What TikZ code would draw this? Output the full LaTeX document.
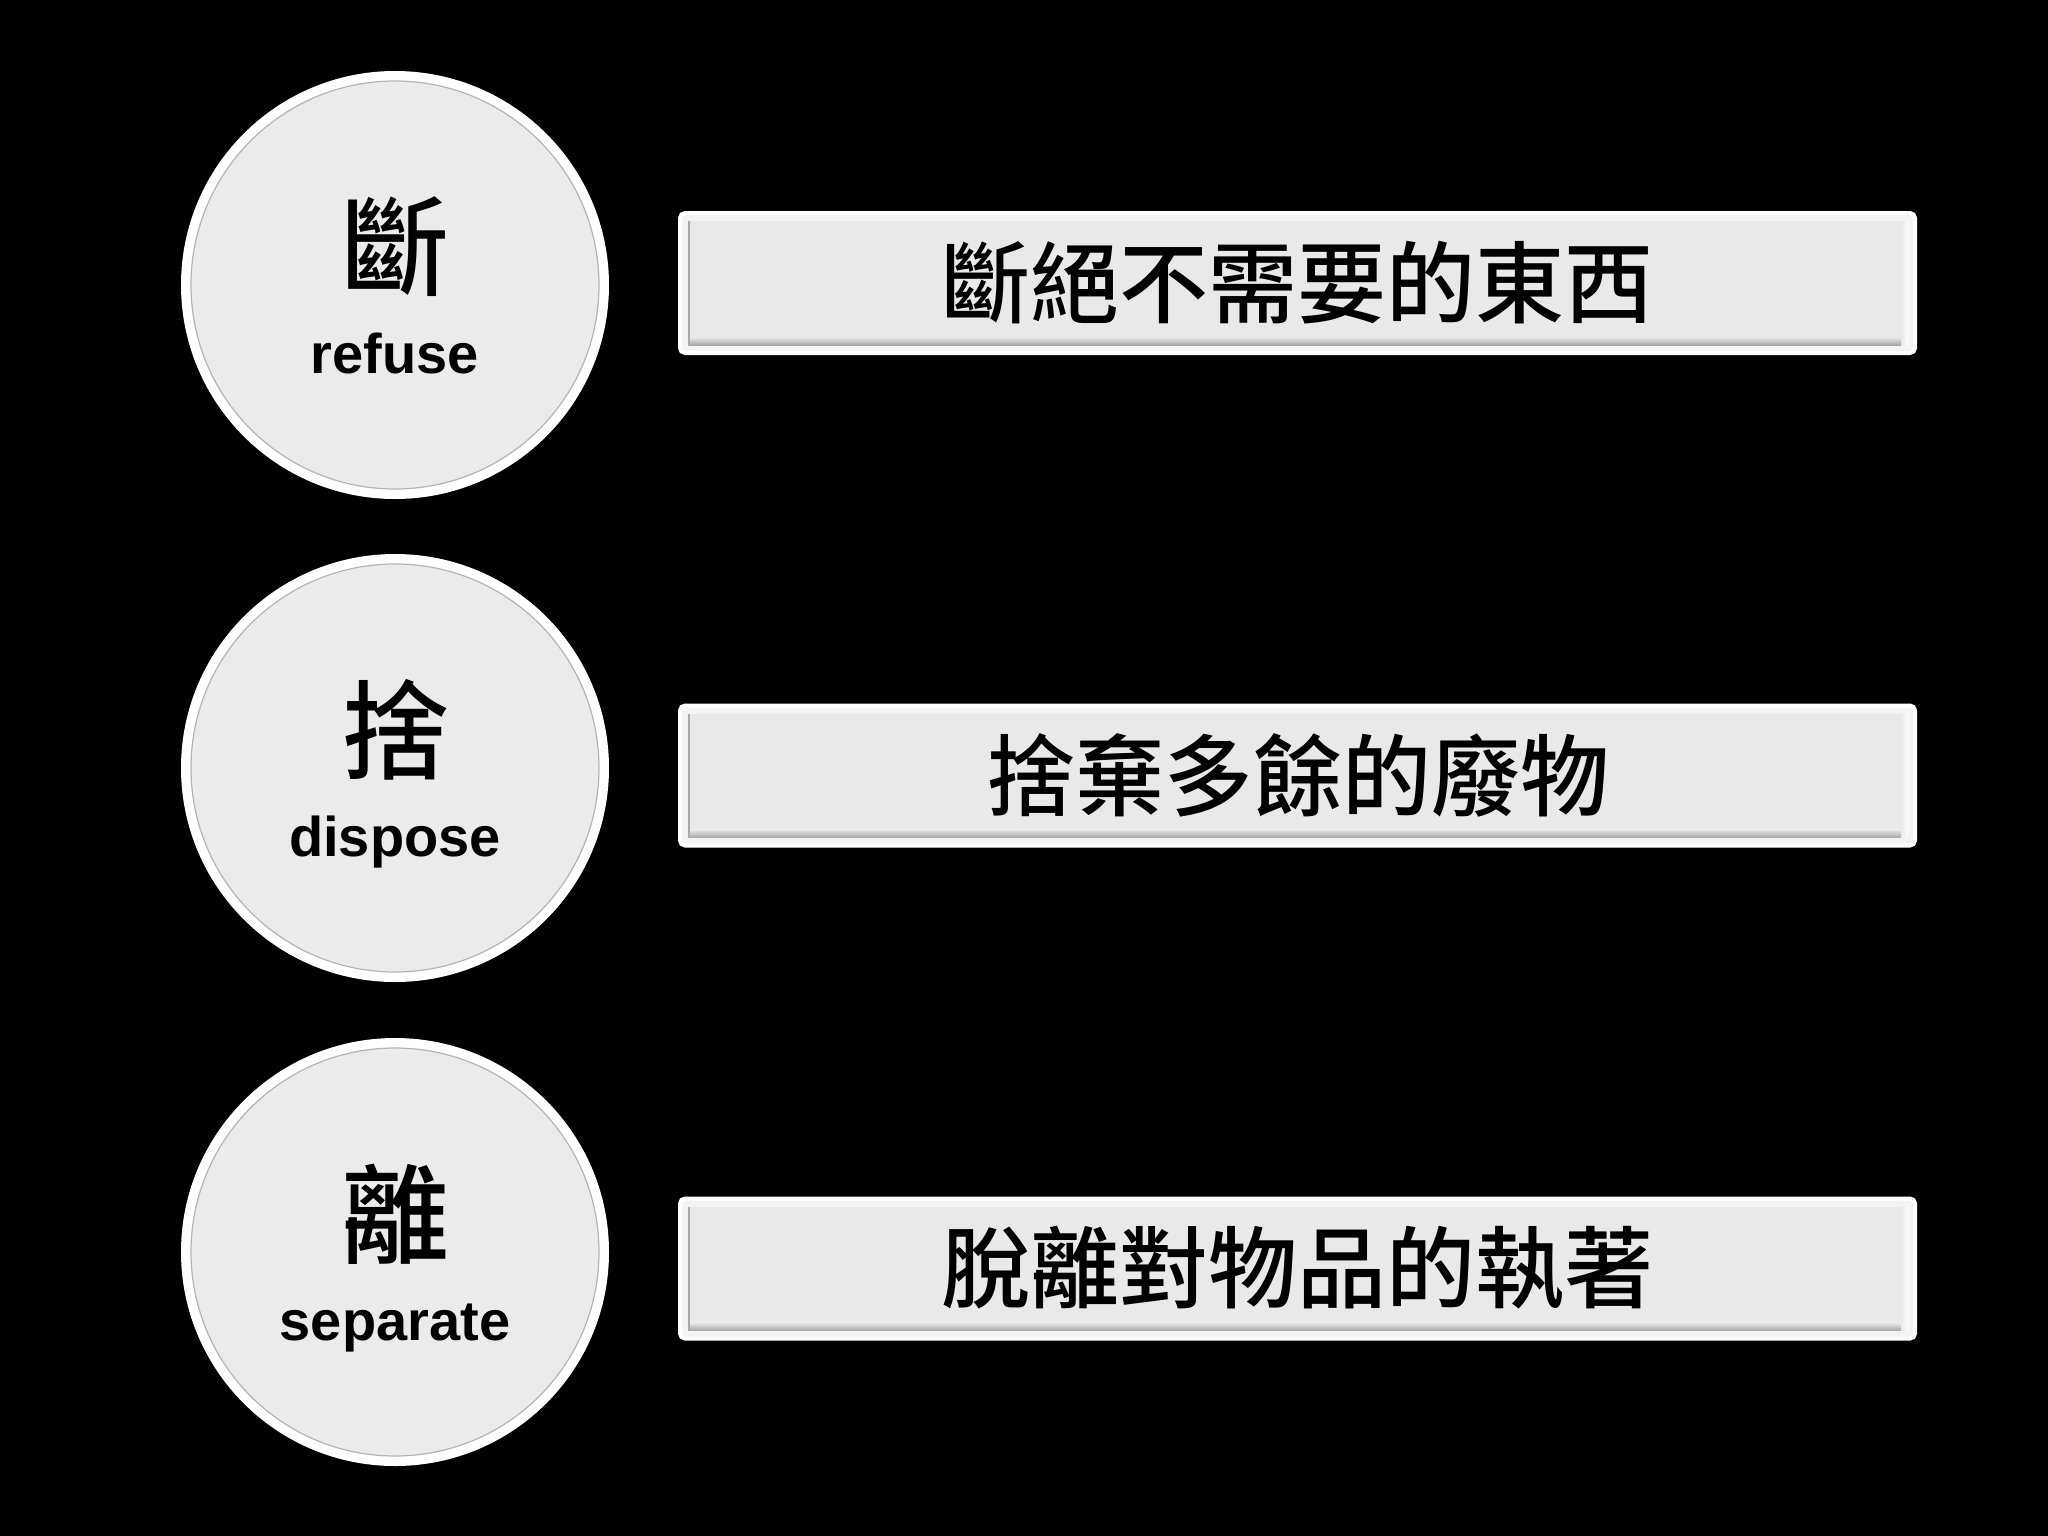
\documentclass[tikz,border=0pt]{standalone}
\usepackage{fontspec}
\setmainfont{Liberation Sans}
\newfontfamily\cjk{Noto Sans CJK TC Medium}
\definecolor{fillg}{HTML}{EBEBEB}
\definecolor{rimg}{HTML}{B4B4B4}
\definecolor{barg}{HTML}{E9E9E9}
\definecolor{barout}{HTML}{F4F4F4}
\definecolor{shadeg}{HTML}{A8A8A8}
\tikzset{
  disc/.style={circle, minimum size=428pt, inner sep=0pt, fill=white},
  discin/.style={fill=fillg, draw=rimg, line width=1.2pt},
  bigchar/.style={inner sep=0pt, font=\cjk\fontsize{108}{108}\selectfont},
  engword/.style={inner sep=0pt, anchor=base, font=\bfseries\fontsize{56}{56}\selectfont},
  barbox/.style={rectangle, minimum width=1235pt, minimum height=140pt, inner sep=0pt,
    fill=barout, draw=white, line width=4pt, rounded corners=5pt},
  bartext/.style={inner sep=0pt, font=\cjk\fontsize{89}{89}\selectfont},
}
\begin{document}
\begin{tikzpicture}[x=1pt,y=-1pt]
\fill[black] (0,0) rectangle (2048,1536);
\useasboundingbox (0,0) rectangle (2048,1536);

% circles
\node[disc] (c1) at (395,285) {};
\node[disc] (c2) at (395,768) {};
\node[disc] (c3) at (395,1252) {};
\foreach \c in {c1,c2,c3}{
  \path[discin] (\c.center) circle (204pt);
}
\node[bigchar] (k1) at (395,247) {斷};
\node[engword] (e1) at (395,373) {refuse};
\node[bigchar] (k2) at (395,730) {捨};
\node[engword] (e2) at (395,856) {dispose};
\node[bigchar] (k3) at (395,1214) {離};
\node[engword] (e3) at (395,1340) {separate};

% bars
\node[barbox] (b1) at (1297.5,283) {};
\node[barbox] (b2) at (1297.5,775.5) {};
\node[barbox] (b3) at (1297.5,1268.5) {};
\foreach \b in {b1,b2,b3}{
  \fill[barg] ([shift={(10pt,-10pt)}]\b.north west) rectangle ([shift={(-8pt,10pt)}]\b.south east);
  \shade[top color=barg, bottom color=shadeg] ([shift={(10pt,18pt)}]\b.south west) rectangle ([shift={(-8pt,10pt)}]\b.south east);
  \draw[shadeg, line width=2.5pt] ([shift={(11pt,-10pt)}]\b.north west) -- ([shift={(11pt,10pt)}]\b.south west);
  \shade[left color=barg, right color=white] ([shift={(-16pt,-10pt)}]\b.north east) rectangle ([shift={(-8pt,10pt)}]\b.south east);
}
\node[bartext] (t1) at (b1) {斷絕不需要的東西};
\node[bartext] (t2) at (b2) {捨棄多餘的廢物};
\node[bartext] (t3) at (b3) {脫離對物品的執著};
\end{tikzpicture}
\end{document}
